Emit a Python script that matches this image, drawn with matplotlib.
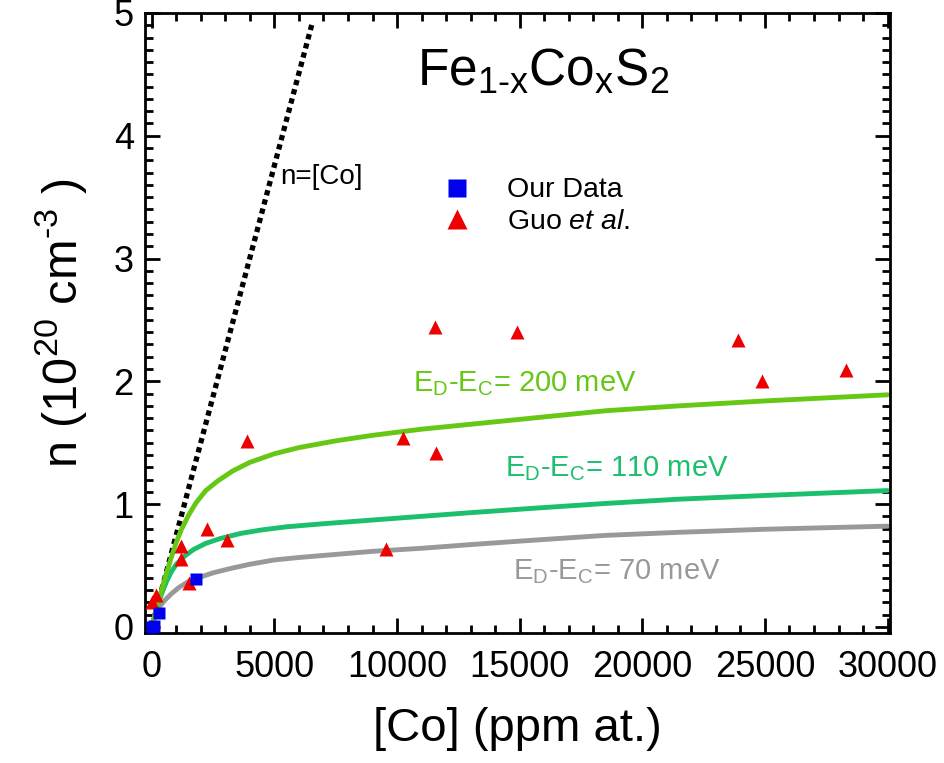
import matplotlib
matplotlib.use("Agg")
import matplotlib.pyplot as plt
from matplotlib.ticker import MultipleLocator
from matplotlib.lines import Line2D

plt.rcParams['font.family'] = ['Liberation Sans', 'DejaVu Sans']
plt.rcParams['mathtext.fontset'] = 'custom'
plt.rcParams['mathtext.rm'] = 'Liberation Sans'
plt.rcParams['mathtext.it'] = 'Liberation Sans:italic'

# measured data
our_co = [0, 80, 300, 1800]
our_n = [0.0, 0.01, 0.11, 0.39]

guo_co = [0, 150, 1200, 1200, 1500, 2250, 3050, 3900, 9550, 10250, 11550, 11600, 14900, 23900, 24900, 28300]
guo_n = [0.20, 0.26, 0.66, 0.55, 0.36, 0.80, 0.71, 1.51, 0.63, 1.54, 2.44, 1.42, 2.40, 2.34, 2.00, 2.09]

# n = [Co] line (ppm -> 1e20 cm^-3)
line_co = [0, 6530]
line_n = [0, 4.91]

# model curves
ed200_co = [0, 100, 250, 400, 600, 800, 1000, 1200, 1500, 1800, 2200, 2700, 3300, 4000, 5000, 6000,
            7500, 9000, 11000, 13000, 15500, 18500, 21500, 25000, 30000]
ed200_n = [0, 0.075, 0.19, 0.30, 0.44, 0.57, 0.69, 0.79, 0.91, 1.01, 1.11, 1.19, 1.27, 1.34, 1.41, 1.46,
           1.515, 1.56, 1.61, 1.65, 1.70, 1.76, 1.80, 1.84, 1.89]

ed110_co = [0, 100, 250, 400, 600, 800, 1000, 1300, 1700, 2200, 2800, 3600, 4500, 5500, 7000, 9000,
            11000, 13000, 15500, 18500, 21500, 25000, 30000]
ed110_n = [0, 0.07, 0.18, 0.27, 0.37, 0.45, 0.51, 0.57, 0.63, 0.68, 0.72, 0.76, 0.79, 0.815, 0.84, 0.87,
           0.90, 0.93, 0.965, 1.005, 1.04, 1.07, 1.11]

ed70_co = [0, 60, 150, 300, 500, 800, 1100, 1500, 1900, 2500, 3200, 4000, 5000, 6000, 7500, 9000,
           11000, 13000, 15500, 18500, 21500, 25000, 30000]
ed70_n = [0, 0.05, 0.10, 0.16, 0.21, 0.27, 0.32, 0.37, 0.40, 0.44, 0.475, 0.51, 0.545, 0.565, 0.59, 0.615,
          0.64, 0.67, 0.705, 0.745, 0.77, 0.795, 0.82]

c200 = '#66c814'
c110 = '#1cbf6c'
c70 = '#999999'

fig = plt.figure(figsize=(9.45, 7.63), dpi=100)
ax = fig.add_axes([0.1534, 0.1704, 0.7884, 0.8126])

kw = dict(lw=3.5, solid_capstyle='round', solid_joinstyle='round', zorder=2)
ax.plot(ed70_co, ed70_n, color=c70, **kw)
ax.plot(ed110_co, ed110_n, color=c110, **kw)
ax.plot(ed200_co, ed200_n, color=c200, **kw)
ax.plot(line_co, line_n, color='black', lw=3.8, linestyle=(0, (1, 0.8)), zorder=1)

ax.plot(guo_co, guo_n, '^', color='#ee0000', ms=10, mec='none', zorder=3)
ax.plot(our_co, our_n, 's', color='#0000ee', ms=9, mec='none', zorder=4)

ax.set_xlim(-280, 30100)
ax.set_ylim(-0.05, 5.0)
ax.xaxis.set_major_locator(MultipleLocator(5000))
ax.xaxis.set_minor_locator(MultipleLocator(1000))
ax.yaxis.set_major_locator(MultipleLocator(1))
ax.yaxis.set_minor_locator(MultipleLocator(0.1))
ax.tick_params(which='both', direction='in', top=True, right=True, width=2, labelsize=26)
ax.tick_params(which='major', length=11)
ax.tick_params(axis='x', which='major', pad=12)
ax.tick_params(axis='y', which='major', pad=8)
ax.tick_params(which='minor', length=6)
for s in ax.spines.values():
    s.set_linewidth(2)

ax.set_xlabel('[Co] (ppm at.)', fontsize=34, labelpad=16)
ax.set_ylabel(r'n (10$^{20}$ cm$^{\text{-}3}$ )', fontsize=35, labelpad=18)

ax.text(0.534, 0.905, r'Fe$_{\mathrm{1\text{-}x}}$Co$_\mathrm{x}$S$_2$', transform=ax.transAxes,
        fontsize=37, ha='center', va='center')
ax.text(5220, 3.66, 'n=[Co]', fontsize=20, ha='left', va='center')

ax.text(10650, 1.98, r'E$_\mathrm{D}$-E$_\mathrm{C}$= 200 meV', color=c200, fontsize=21, va='center')
ax.text(14400, 1.29, r'E$_\mathrm{D}$-E$_\mathrm{C}$= 110 meV', color=c110, fontsize=21, va='center')
ax.text(14730, 0.45, r'E$_\mathrm{D}$-E$_\mathrm{C}$= 70 meV', color=c70, fontsize=21, va='center')

handles = [Line2D([], [], ls='none', marker='s', color='#0000ee', ms=13, mec='none'),
           Line2D([], [], ls='none', marker='^', color='#ee0000', ms=15, mec='none')]
ax.legend(handles, ['Our Data', r'Guo $\mathit{et\ al.}$'], loc='upper left',
          bbox_to_anchor=(0.356, 0.776), frameon=False, fontsize=20.5,
          handletextpad=1.0, labelspacing=0.2, handlelength=1.5)

fig.savefig('out.png', dpi=100)
